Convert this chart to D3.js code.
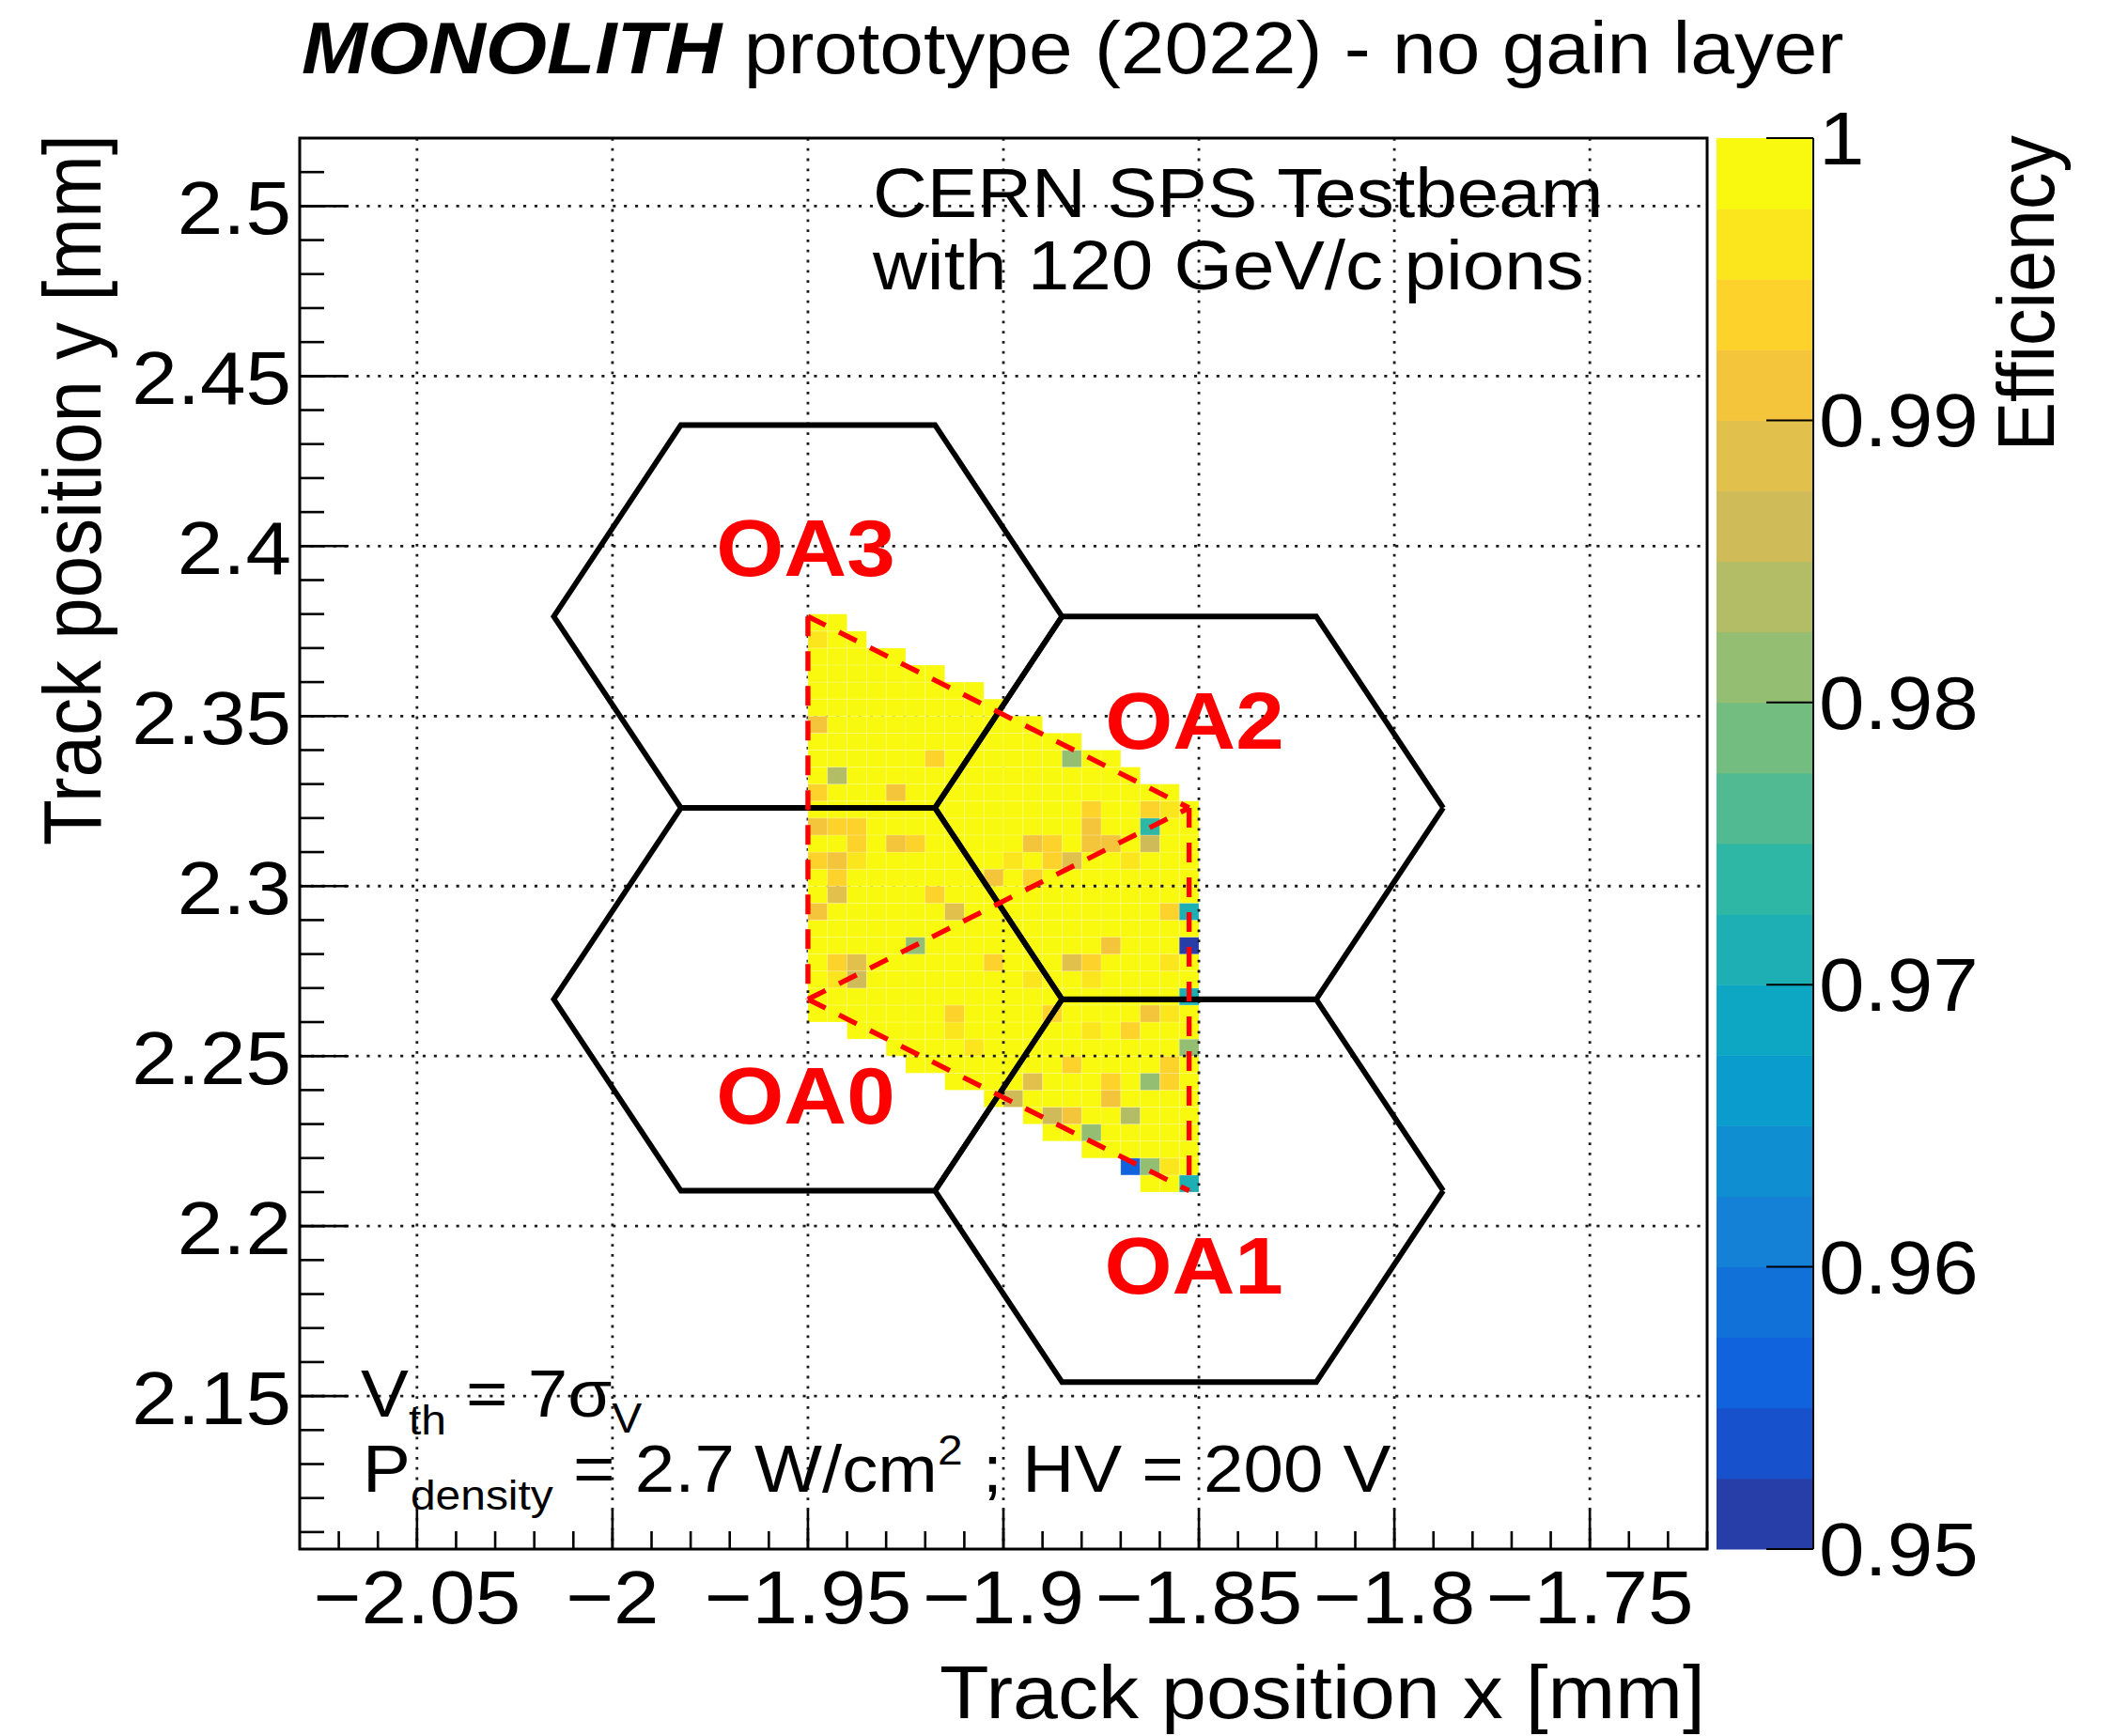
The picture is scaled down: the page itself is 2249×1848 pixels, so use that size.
<!DOCTYPE html>
<html>
<head>
<meta charset="utf-8">
<script src="https://cdn.jsdelivr.net/npm/d3@7"></script>
<style>
  body { margin: 0; background: #fff; }
  svg { display: block; }
  text { font-family: "Liberation Sans", Arial, Helvetica, sans-serif; fill: #000; }
</style>
</head>
<body>
<svg id="chart" width="2249" height="1848"></svg>
<script>
// ---------------- data ----------------
// Axis ranges (mm) and tick labels
const xDomain = [-2.08, -1.72];
const yDomain = [2.105, 2.52];
const xMajor = [-2.05, -2.0, -1.95, -1.9, -1.85, -1.8, -1.75];
const xMajorLabels = ["\u22122.05", "\u22122", "\u22121.95", "\u22121.9", "\u22121.85", "\u22121.8", "\u22121.75"];
const yMajor = [2.15, 2.2, 2.25, 2.3, 2.35, 2.4, 2.45, 2.5];
const yMajorLabels = ["2.15", "2.2", "2.25", "2.3", "2.35", "2.4", "2.45", "2.5"];
const zDomain = [0.95, 1.0];
const zTicks = [0.95, 0.96, 0.97, 0.98, 0.99, 1.0];
const zTickLabels = ["0.95", "0.96", "0.97", "0.98", "0.99", "1"];

// Efficiency map binning (5 um bins)
const binW = 0.005;
const xBinStart = -1.95;
const yBinStart = 2.21;
// occupied y-range of every x column (lower edge of first bin, upper edge of last bin)
const colBottomY = [2.26, 2.26, 2.255, 2.255, 2.25, 2.245, 2.245, 2.24, 2.24, 2.235,
                    2.235, 2.23, 2.225, 2.225, 2.22, 2.22, 2.215, 2.21, 2.21, 2.21];
const colTopY    = [2.38, 2.38, 2.375, 2.37, 2.37, 2.365, 2.365, 2.36, 2.36, 2.355,
                    2.35, 2.35, 2.345, 2.345, 2.34, 2.34, 2.335, 2.33, 2.33, 2.325];
// efficiency of every occupied bin that is fully efficient
const fullEfficiency = 1.0;
// bins below full efficiency: [x bin, y bin, efficiency]
const lowBins = [
  [0, 32, 0.9962], [0, 27, 0.9912], [6, 25, 0.9937], [13, 25, 0.9812], [1, 24, 0.9837],
  [0, 23, 0.9937], [4, 23, 0.9912], [14, 22, 0.9937], [17, 22, 0.9937], [18, 22, 0.9962],
  [0, 21, 0.9912], [1, 21, 0.9937], [2, 21, 0.9937], [14, 21, 0.9912], [17, 21, 0.9735],
  [2, 20, 0.9937], [4, 20, 0.9912], [5, 20, 0.9937], [11, 20, 0.9912], [12, 20, 0.9937],
  [14, 20, 0.9912], [15, 20, 0.9912], [17, 20, 0.9862],
  [0, 19, 0.9937], [1, 19, 0.9912], [2, 19, 0.9962], [10, 19, 0.9962], [12, 19, 0.9937],
  [13, 19, 0.9887], [16, 19, 0.9962],
  [1, 18, 0.9937], [9, 18, 0.9912], [11, 18, 0.9937],
  [1, 17, 0.9887], [6, 17, 0.9937],
  [0, 16, 0.9912], [7, 16, 0.9887], [18, 16, 0.9937], [19, 16, 0.9710],
  [5, 14, 0.9812], [15, 14, 0.9912], [19, 14, 0.9512],
  [1, 13, 0.9937], [2, 13, 0.9887], [9, 13, 0.9937], [13, 13, 0.9887], [14, 13, 0.9937], [18, 13, 0.9962],
  [1, 12, 0.9962], [2, 12, 0.9862], [11, 12, 0.9962], [14, 12, 0.9962],
  [19, 11, 0.9710],
  [7, 10, 0.9937], [12, 10, 0.9930], [17, 10, 0.9912], [18, 10, 0.9962],
  [7, 9, 0.9962], [14, 9, 0.9962], [16, 9, 0.9937],
  [8, 8, 0.9962], [19, 8, 0.9812],
  [13, 7, 0.9937], [18, 7, 0.9937],
  [11, 6, 0.9887], [15, 6, 0.9937], [17, 6, 0.9812], [18, 6, 0.9937],
  [10, 5, 0.9862], [15, 5, 0.9912],
  [12, 4, 0.9862], [13, 4, 0.9912], [16, 4, 0.9837],
  [14, 3, 0.9812],
  [16, 1, 0.9555], [17, 1, 0.9812], [18, 1, 0.9962],
  [19, 0, 0.9710]
];

// Hexagonal pixels: name and centre (mm); side length 65 um
const pixelNames = ["OA0", "OA1", "OA2", "OA3"];
const pixelCx = [-1.95, -1.8525, -1.8525, -1.95];
const pixelCy = [2.2667, 2.2104, 2.3230, 2.3793];
const hexSide = 0.065;

// ---------------- layout ----------------
const frame = { l: 319, r: 1817, t: 147, b: 1649 };
const pal = { l: 1827, r: 1930 };
const SX = 1.09;                       // horizontal glyph stretch

const svg = d3.select("#chart");
svg.append("rect").attr("width", 2249).attr("height", 1848).attr("fill", "#fff");

const x = d3.scaleLinear().domain(xDomain).range([frame.l, frame.r]);
const y = d3.scaleLinear().domain(yDomain).range([frame.b, frame.t]);

// ROOT "bird" palette, 20 contour levels
const birdStops = [0.0, 0.125, 0.25, 0.375, 0.5, 0.625, 0.75, 0.875, 1.0];
const birdR = [0.2082, 0.0592, 0.0780, 0.0232, 0.1802, 0.5301, 0.8186, 0.9956, 0.9764];
const birdG = [0.1664, 0.3599, 0.5041, 0.6419, 0.7178, 0.7492, 0.7328, 0.7862, 0.9832];
const birdB = [0.5293, 0.8684, 0.8385, 0.7914, 0.6425, 0.4662, 0.3499, 0.1968, 0.0539];
function bird(t) {
  let i = 0;
  while (i < birdStops.length - 2 && t > birdStops[i + 1]) i++;
  const f = (t - birdStops[i]) / (birdStops[i + 1] - birdStops[i]);
  const c = arr => Math.round(255 * (arr[i] + (arr[i + 1] - arr[i]) * f));
  return d3.rgb(c(birdR), c(birdG), c(birdB)).formatHex();
}
const nLevels = 20;
const levelColors = d3.range(nLevels).map(k => bird(Math.floor((k + 0.99) * 255 / nLevels) / 255));
const color = d3.scaleQuantize().domain(zDomain).range(levelColors);

// ---------------- bins ----------------
const lowMap = new Map(lowBins.map(d => [d[0] + "_" + d[1], d[2]]));
const bins = [];
colTopY.forEach((top, ix) => {
  const bot = colBottomY[ix];
  const n = Math.round((top - bot) / binW);
  for (let r = 0; r < n; r++) {
    const y0 = bot + r * binW;
    const iy = Math.round((y0 - yBinStart) / binW);
    const key = ix + "_" + iy;
    bins.push({
      x0: xBinStart + ix * binW, y0,
      eff: lowMap.has(key) ? lowMap.get(key) : fullEfficiency
    });
  }
});
// the map is filled per triangle: bins above the OA0-OA2 diagonal are painted after the grid
const slope = (pixelCy[2] - pixelCy[0]) / (pixelCx[2] - pixelCx[0]);
const aboveDiag = d => (d.y0 + binW / 2) > pixelCy[0] + slope * (d.x0 + binW / 2 - pixelCx[0]);

function drawBins(g, data) {
  g.selectAll("rect").data(data).join("rect")
    .attr("x", d => x(d.x0))
    .attr("y", d => y(d.y0 + binW))
    .attr("width", d => x(d.x0 + binW) - x(d.x0))
    .attr("height", d => y(d.y0) - y(d.y0 + binW))
    .attr("fill", d => color(d.eff))
    .attr("stroke", "#ffffff").attr("stroke-opacity", 0.18).attr("stroke-width", 1);
}

drawBins(svg.append("g"), bins.filter(d => !aboveDiag(d)));

// ---------------- grid ----------------
const gGrid = svg.append("g").attr("stroke", "#1a1a1a").attr("fill", "none");
gGrid.selectAll("line.gx").data(xMajor).join("line").attr("class", "gx")
  .attr("x1", d => x(d)).attr("x2", d => x(d))
  .attr("y1", frame.t).attr("y2", frame.b)
  .attr("stroke-width", 2.8).attr("stroke-dasharray", "2.8 8.0");
gGrid.selectAll("line.gy").data(yMajor).join("line").attr("class", "gy")
  .attr("y1", d => y(d)).attr("y2", d => y(d))
  .attr("x1", frame.l).attr("x2", frame.r)
  .attr("stroke-width", 2.8).attr("stroke-dasharray", "3.1 8.8");

drawBins(svg.append("g"), bins.filter(d => aboveDiag(d)));

// ---------------- hexagonal pixels ----------------
const hexLine = d3.line().x(p => x(p[0])).y(p => y(p[1]));
const gHex = svg.append("g");
pixelNames.forEach((name, i) => {
  const pts = d3.range(7).map(k => {
    const a = (k % 6) * Math.PI / 3;
    return [pixelCx[i] + hexSide * Math.cos(a), pixelCy[i] + hexSide * Math.sin(a)];
  });
  gHex.append("path").attr("d", hexLine(pts))
    .attr("fill", "none").attr("stroke", "#000").attr("stroke-width", 5.8).attr("stroke-linejoin", "miter");
});

// triangles between pixel centres (dashed red)
const ci = n => [pixelCx[pixelNames.indexOf(n)], pixelCy[pixelNames.indexOf(n)]];
const redSegments = [["OA3", "OA2"], ["OA0", "OA2"], ["OA0", "OA1"], ["OA3", "OA0"], ["OA2", "OA1"]];
svg.append("g").selectAll("path").data(redSegments).join("path")
  .attr("d", s => hexLine([ci(s[0]), ci(s[1])]))
  .attr("fill", "none").attr("stroke", "#ff0000").attr("stroke-width", 5.4)
  .attr("stroke-dasharray", "21 16");

// pixel labels
const labelDx = { OA0: -0.0006, OA1: 0.0012, OA2: 0.0014, OA3: -0.0006 };
const labelDy = { OA0: -0.0366, OA1: -0.0303, OA2: 0.0174, OA3: 0.012 };
svg.append("g").selectAll("text").data(pixelNames).join("text")
  .attr("transform", (n, i) => `translate(${x(pixelCx[i] + labelDx[n])},${y(pixelCy[i] + labelDy[n])}) scale(${SX},1)`)
  .attr("text-anchor", "middle").attr("font-size", 85).attr("font-weight", "bold")
  .style("fill", "#ff0000").text(n => n);

// ---------------- frame and axes ----------------
svg.append("rect").attr("x", frame.l).attr("y", frame.t)
  .attr("width", frame.r - frame.l).attr("height", frame.b - frame.t)
  .attr("fill", "none").attr("stroke", "#000").attr("stroke-width", 3);

const xMinor = d3.range(-2.07, -1.7199, 0.01).map(v => +v.toFixed(3));
const yMinor = d3.range(2.11, 2.5101, 0.01).map(v => +v.toFixed(3));
const gAx = svg.append("g").attr("stroke", "#000").attr("stroke-width", 2.6);
gAx.selectAll("line.xm").data(xMinor).join("line").attr("class", "xm")
  .attr("x1", d => x(d)).attr("x2", d => x(d)).attr("y1", frame.b).attr("y2", frame.b - 19);
gAx.selectAll("line.xM").data(xMajor).join("line").attr("class", "xM")
  .attr("x1", d => x(d)).attr("x2", d => x(d)).attr("y1", frame.b).attr("y2", frame.b - 42);
gAx.selectAll("line.ym").data(yMinor).join("line").attr("class", "ym")
  .attr("y1", d => y(d)).attr("y2", d => y(d)).attr("x1", frame.l).attr("x2", frame.l + 26);
gAx.selectAll("line.yM").data(yMajor).join("line").attr("class", "yM")
  .attr("y1", d => y(d)).attr("y2", d => y(d)).attr("x1", frame.l).attr("x2", frame.l + 52);

svg.append("g").selectAll("text").data(xMajor).join("text")
  .attr("transform", d => `translate(${x(d)},1728) scale(${SX},1)`)
  .attr("text-anchor", "middle").attr("font-size", 80)
  .text((d, i) => xMajorLabels[i]);
svg.append("g").selectAll("text").data(yMajor).join("text")
  .attr("transform", d => `translate(310,${y(d) + 30}) scale(${SX},1)`)
  .attr("text-anchor", "end").attr("font-size", 80)
  .text((d, i) => yMajorLabels[i]);

// axis titles
svg.append("text").attr("transform", `translate(1815,1829) scale(${SX},1)`)
  .attr("text-anchor", "end").attr("font-size", 79).text("Track position x [mm]");
svg.append("text").attr("transform", `translate(107,143) scale(${SX},1) rotate(-90)`)
  .attr("text-anchor", "end").attr("font-size", 80).text("Track position y [mm]");

// ---------------- colour palette ----------------
const z = d3.scaleLinear().domain(zDomain).range([frame.b, frame.t]);
const dz = (zDomain[1] - zDomain[0]) / nLevels;
const levelEdges = d3.range(nLevels).map(k => zDomain[0] + k * dz);
svg.append("g").selectAll("rect").data(levelEdges).join("rect")
  .attr("x", pal.l).attr("width", pal.r - pal.l)
  .attr("y", d => z(d + dz)).attr("height", d => z(d) - z(d + dz) + 0.5)
  .attr("fill", d => color(d + dz / 2));
svg.append("line").attr("x1", pal.r).attr("x2", pal.r).attr("y1", frame.t).attr("y2", frame.b)
  .attr("stroke", "#000").attr("stroke-width", 2);
svg.append("g").attr("stroke", "#000").attr("stroke-width", 2)
  .selectAll("line").data(zTicks).join("line")
  .attr("x1", pal.r - 50).attr("x2", pal.r).attr("y1", d => z(d)).attr("y2", d => z(d));
svg.append("g").selectAll("text").data(zTicks).join("text")
  .attr("transform", d => `translate(1936,${z(d) + 28}) scale(${SX},1)`)
  .attr("font-size", 80).text((d, i) => zTickLabels[i]);
svg.append("text").attr("transform", `translate(2186,144) scale(${SX},1) rotate(-90)`)
  .attr("text-anchor", "end").attr("font-size", 79).text("Efficiency");

// ---------------- title and annotations ----------------
const title = svg.append("text").attr("transform", `translate(321,78) scale(${SX},1)`).attr("font-size", 77);
title.append("tspan").attr("font-weight", "bold").attr("font-style", "italic").text("MONOLITH");
title.append("tspan").text(" prototype (2022) - no gain layer");

svg.append("text").attr("transform", `translate(929,231) scale(${SX},1)`).attr("font-size", 73.5)
  .text("CERN SPS Testbeam");
svg.append("text").attr("transform", `translate(929,308) scale(${SX},1)`).attr("font-size", 73.5)
  .text("with 120 GeV/c pions");

const a1 = svg.append("text").attr("transform", `translate(384,1508) scale(${SX},1)`).attr("font-size", 70);
a1.append("tspan").text("V");
a1.append("tspan").attr("font-size", 44).attr("dy", 19).text("th");
a1.append("tspan").attr("dy", -19).text(" = 7\u03c3");
a1.append("tspan").attr("font-size", 44).attr("dy", 17).text("V");

const a2 = svg.append("text").attr("transform", `translate(386,1588) scale(${SX},1)`).attr("font-size", 70);
a2.append("tspan").text("P");
a2.append("tspan").attr("font-size", 44).attr("dy", 19).text("density");
a2.append("tspan").attr("dy", -19).text(" = 2.7 W/cm");
a2.append("tspan").attr("font-size", 44).attr("dy", -29).text("2");
a2.append("tspan").attr("dy", 29).text(" ; HV = 200 V");
</script>
</body>
</html>
